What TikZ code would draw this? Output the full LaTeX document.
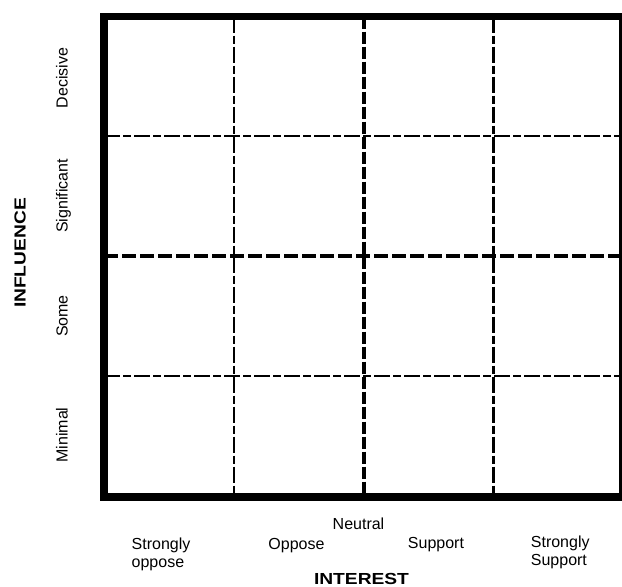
\documentclass[tikz,border=0pt]{standalone}
\usepackage{fontspec}
\setmainfont{Liberation Sans}
\usetikzlibrary{positioning}

\begin{document}
\begin{tikzpicture}[x=1pt,y=-1pt,
  frame/.style={line width=7.5pt},
  minor line/.style={line width=2.2pt,dash pattern=on 16pt off 3pt on 8pt off 3pt},
  major line/.style={line width=4.5pt,dash pattern=on 14pt off 4pt},
  level label/.style={font=\fontsize{16}{18}\selectfont,inner sep=0pt},
  axis label/.style={font=\fontsize{16}{19}\selectfont\bfseries,inner sep=0pt}]

  \useasboundingbox (0,0) rectangle (622,587);

  \coordinate (nw) at (104,16.5);
  \coordinate (se) at (623,497);

  % dividers
  \foreach \x in {234,493.5}
    \draw[minor line] (\x,16.5) -- (\x,497);
  \foreach \y in {136,376}
    \draw[minor line] (104,\y) -- (623,\y);
  \draw[major line,line width=3.2pt,dash pattern=on 12pt off 3pt] (364,16.5) -- (364,497);
  \draw[major line] (104,256) -- (623,256);

  \draw[frame] (nw) rectangle (se);

  % influence
  \node[level label,rotate=90,anchor=base] (decisive) at (67.5,78) {Decisive};
  \node[level label,rotate=90,anchor=base] (significant) at (67.5,196) {Significant};
  \node[level label,rotate=90,anchor=base] (some) at (67.5,316) {Some};
  \node[level label,rotate=90,anchor=base] (minimal) at (67.5,435) {Minimal};
  \node[axis label,rotate=90,anchor=base] (influence) at (25.5,253) {\scalebox{1.2}[1]{INFLUENCE}};

  % interest
  \node[level label,anchor=base] (neutral) at (358.5,529) {Neutral};
  \node[level label,align=left,anchor=north west] (sopp) at (131.5,538) {Strongly\\oppose};
  \node[level label,anchor=base] (oppose) at (296.5,549) {Oppose};
  \node[level label,anchor=base] (support) at (436,548) {Support};
  \node[level label,align=left,anchor=north west] (ssupp) at (530.7,536) {Strongly\\Support};
  \node[axis label,anchor=base] (interest) at (361.5,584.5) {\scalebox{1.2}[1]{INTEREST}};
\end{tikzpicture}
\end{document}
